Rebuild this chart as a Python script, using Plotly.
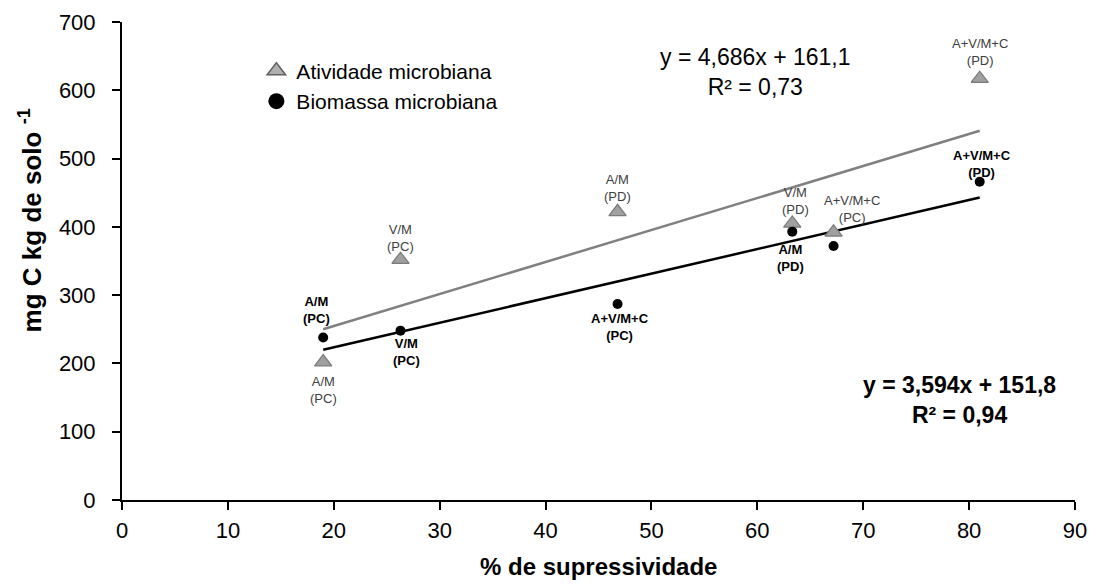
import plotly.graph_objects as go

# % de supressividade for each treatment
supress = [19.0, 26.3, 46.8, 63.3, 67.2, 81.0]

# Atividade microbiana (mg C kg-1 solo)
atividade = [202, 352, 422, 405, 392, 617]
# Biomassa microbiana (mg C kg-1 solo)
biomassa = [238, 248, 287, 393, 372, 466]

labels_ativ = ["A/M<br>(PC)", "V/M<br>(PC)", "A/M<br>(PD)", "V/M<br>(PD)", "A+V/M+C<br>(PC)", "A+V/M+C<br>(PD)"]
labels_bio = ["A/M<br>(PC)", "V/M<br>(PC)", "A+V/M+C<br>(PC)", "A/M<br>(PD)", "", "A+V/M+C<br>(PD)"]

# Linear trend coefficients (slope, intercept)
fit_ativ = (4.686, 161.1)
fit_bio = (3.594, 151.8)

FONT = "Liberation Sans, Arial, sans-serif"
x_ends = [min(supress), max(supress)]

fig = go.Figure()

fig.add_trace(go.Scatter(
    x=x_ends, y=[fit_ativ[0] * v + fit_ativ[1] for v in x_ends],
    mode="lines", line=dict(color="#808080", width=2.5), showlegend=False, hoverinfo="skip"))
fig.add_trace(go.Scatter(
    x=x_ends, y=[fit_bio[0] * v + fit_bio[1] for v in x_ends],
    mode="lines", line=dict(color="#000000", width=2.5), showlegend=False, hoverinfo="skip"))

tri_marker = dict(symbol="triangle-up", size=15, color="#a0a0a0",
                  line=dict(color="#7a7a7a", width=1.2))
dot_marker = dict(symbol="circle", size=10, color="#000000")

fig.add_trace(go.Scatter(x=supress, y=atividade, mode="markers", marker=tri_marker,
                         name="Atividade microbiana", showlegend=False))
fig.add_trace(go.Scatter(x=supress, y=biomassa, mode="markers", marker=dot_marker,
                         name="Biomassa microbiana", showlegend=False))

# Legend entries with larger symbols
fig.add_trace(go.Scatter(x=[None], y=[None], mode="markers", name="Atividade microbiana",
                         marker=dict(symbol="triangle-up", size=16, color="#b0b0b0",
                                     line=dict(color="#606060", width=1.5))))
fig.add_trace(go.Scatter(x=[None], y=[None], mode="markers", name="Biomassa microbiana",
                         marker=dict(symbol="circle", size=16, color="#000000")))

# Point labels: (x offset px, y offset px)
ativ_shift = [(0, -28), (0, 22), (0, 24), (3, 22), (18, 23), (0, 27)]
bio_shift = [(-7, 27), (6, -21), (2, -23), (-2, -26), (0, 0), (2, 18)]

for xv, yv, t, (dx, dy) in zip(supress, atividade, labels_ativ, ativ_shift):
    fig.add_annotation(x=xv, y=yv, text=t, showarrow=False, xshift=dx, yshift=dy,
                       font=dict(family=FONT, size=13, color="#404040"))
for xv, yv, t, (dx, dy) in zip(supress, biomassa, labels_bio, bio_shift):
    if t:
        fig.add_annotation(x=xv, y=yv, text="<b>" + t + "</b>", showarrow=False,
                           xshift=dx, yshift=dy,
                           font=dict(family=FONT, size=13, color="#000000"))

# Trend equations
fig.add_annotation(x=0.665, y=0.895, xref="paper", yref="paper", showarrow=False,
                   xanchor="center", yanchor="middle",
                   text="y = 4,686x + 161,1<br>R² = 0,73",
                   font=dict(family=FONT, size=23, color="#000000"))
fig.add_annotation(x=0.879, y=0.209, xref="paper", yref="paper", showarrow=False,
                   xanchor="center", yanchor="middle",
                   text="<b>y = 3,594x + 151,8<br>R² = 0,94</b>",
                   font=dict(family=FONT, size=23, color="#000000"))

# Axis titles
fig.add_annotation(x=-0.0965, y=0.585, xref="paper", yref="paper", showarrow=False,
                   xanchor="center", yanchor="middle", textangle=-90,
                   text="<b>mg C kg de solo <sup>-1</sup></b>",
                   font=dict(family=FONT, size=26, color="#000000"))
fig.add_annotation(x=0.5, y=-0.14, xref="paper", yref="paper", showarrow=False,
                   xanchor="center", yanchor="middle",
                   text="<b>% de supressividade</b>",
                   font=dict(family=FONT, size=24, color="#000000"))

axis_common = dict(showline=True, linecolor="#000000", linewidth=2, ticks="outside",
                   tickcolor="#000000", ticklen=8, tickwidth=2, showgrid=False,
                   zeroline=False, automargin=False,
                   tickfont=dict(family=FONT, size=22, color="#000000"))

fig.update_layout(
    width=1098, height=584,
    margin=dict(l=122, r=23, t=22, b=84),
    plot_bgcolor="white", paper_bgcolor="white",
    font=dict(family=FONT, color="#000000"),
    xaxis=dict(range=[0, 90], dtick=10, ticklabelstandoff=2, **axis_common),
    yaxis=dict(range=[0, 700], dtick=100, ticklabelstandoff=12, **axis_common),
    legend=dict(x=0.141, y=0.94, xanchor="left", yanchor="top",
                bgcolor="rgba(0,0,0,0)", font=dict(family=FONT, size=21),
                itemwidth=30, tracegroupgap=0),
)

fig.write_html("out.html")
